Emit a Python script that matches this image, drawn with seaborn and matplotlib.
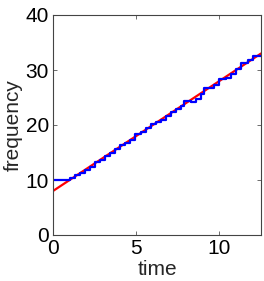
import matplotlib
matplotlib.use("Agg")
import matplotlib.pyplot as plt
import seaborn as sns
import pandas as pd

sns.set_style("white")
plt.rcParams['font.family'] = ['Liberation Sans', 'DejaVu Sans']

# fitted line
fit_time = [0.0, 12.5]
fit_freq = [8.0, 33.0]

# measured staircase
step_time = [0.0, 1.0, 1.3, 1.6, 1.9, 2.2, 2.5, 2.8, 3.1, 3.4, 3.7, 4.0, 4.3,
             4.6, 4.9, 5.3, 5.6, 5.9, 6.2, 6.5, 6.8, 7.1, 7.4, 7.7, 7.9, 8.3,
             8.6, 8.9, 9.1, 9.7, 10.0, 10.4, 10.7, 11.0, 11.3, 11.7, 12.0, 12.5]
step_freq = [10.0, 10.3, 10.9, 11.3, 11.8, 12.4, 13.2, 13.6, 14.3, 15.0, 15.7,
             16.3, 16.8, 17.3, 18.3, 18.8, 19.4, 20.2, 20.6, 21.0, 21.6, 22.3,
             22.9, 23.5, 24.3, 24.1, 24.7, 25.6, 26.8, 27.3, 28.4, 28.5, 29.3,
             30.2, 31.3, 31.8, 32.5, 32.5]

xticks = [0, 5, 10]
yticks = [0, 10, 20, 30, 40]

fig = plt.figure(figsize=(2.64, 2.81), dpi=100)
ax = fig.add_axes([53/264, 46/281, 208/264, 220/281])

sns.lineplot(x=fit_time, y=fit_freq, ax=ax, color='#ff0000', linewidth=1.6)
sns.lineplot(x=step_time, y=step_freq, ax=ax, color='#0000ff', linewidth=1.6,
             drawstyle='steps-post')

ax.set_xlim(0, 12.5)
ax.set_ylim(0, 40)
ax.set_xticks(xticks)
ax.set_yticks(yticks)
ax.tick_params(direction='in', length=3, width=0.6, labelsize=15, pad=3,
               top=True, right=True, bottom=True, left=True, colors='#555555',
               labelcolor='black')
for s in ax.spines.values():
    s.set_color('#444444')
    s.set_linewidth(0.8)
ax.set_xlabel('time', fontsize=15, labelpad=1)
ax.set_ylabel('frequency', fontsize=15, labelpad=2)

fig.savefig('out.png', dpi=100)
